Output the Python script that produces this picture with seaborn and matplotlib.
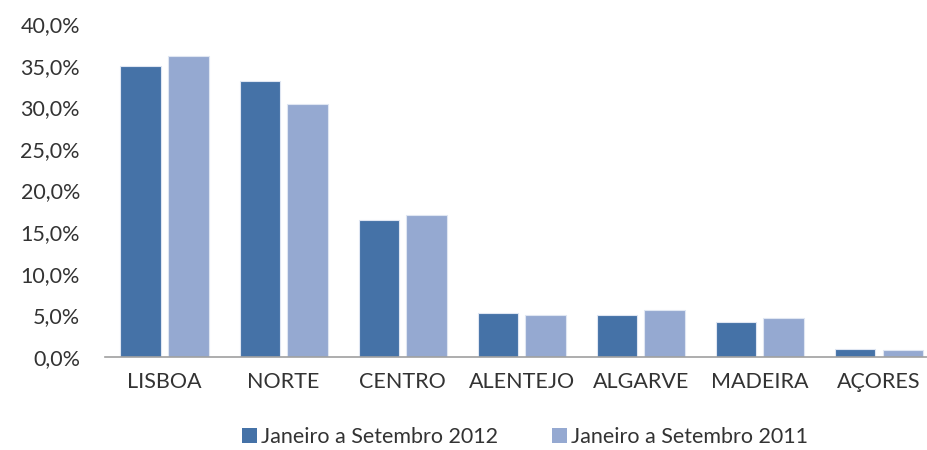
import matplotlib
matplotlib.use("Agg")
import matplotlib.pyplot as plt
import pandas as pd
import seaborn as sns
from matplotlib.patches import Patch
from matplotlib.ticker import FuncFormatter

regions = ["LISBOA", "NORTE", "CENTRO", "ALENTEJO", "ALGARVE", "MADEIRA", "AÇORES"]
share_2012 = [35.0, 33.1, 16.4, 5.3, 5.1, 4.2, 1.0]
share_2011 = [36.1, 30.4, 17.0, 5.1, 5.6, 4.7, 0.8]
series_names = ["Janeiro a Setembro 2012", "Janeiro a Setembro 2011"]
colors = ["#4572A7", "#95A9D1"]

df = pd.DataFrame({
    "region": regions * 2,
    "value": share_2012 + share_2011,
    "period": [series_names[0]] * len(regions) + [series_names[1]] * len(regions),
})

sns.set_theme(style="white")
plt.rcParams["font.family"] = ["Lato", "DejaVu Sans"]

fig = plt.figure(figsize=(9.28, 4.5), dpi=100)
ax = fig.add_axes([105 / 928, 93 / 450, 833.5 / 928, 333 / 450])

sns.barplot(data=df, x="region", y="value", hue="period", order=regions,
            hue_order=series_names, palette=colors, saturation=1, width=0.8, gap=0.15,
            edgecolor="#dfe6f2", linewidth=0.8, legend=False, ax=ax)

ax.set_xlim(-0.5, 6.5)
ax.set_ylim(0, 40)
ax.set_yticks(range(0, 41, 5))
ax.yaxis.set_major_formatter(FuncFormatter(lambda v, _: f"{v:.1f}%".replace(".", ",")))
ax.set_xlabel("")
ax.set_ylabel("")
for side in ["top", "right", "left"]:
    ax.spines[side].set_visible(False)
ax.spines["bottom"].set_color("#a0a0a0")
ax.spines["bottom"].set_linewidth(1.2)
ax.tick_params(axis="y", length=0, pad=18, labelsize=15.5, labelcolor="#333333")
ax.tick_params(axis="x", length=0, pad=11, labelsize=15.5, labelcolor="#333333")

handles = [Patch(facecolor=c, edgecolor="none") for c in colors]
fig.legend(handles, series_names, loc="center", bbox_to_anchor=(525 / 928, 1 - 437 / 450),
           ncol=2, frameon=False, fontsize=15.5, handlelength=0.7, handleheight=0.7,
           handletextpad=0.2, columnspacing=2.5, labelcolor="#333333")

fig.savefig("out.png", dpi=100)
